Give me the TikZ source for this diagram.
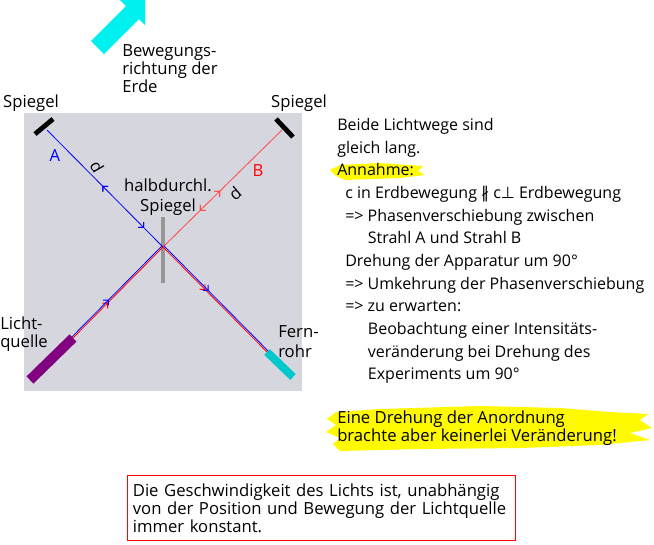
\documentclass[tikz,border=0pt]{standalone}
\usepackage{fontspec}
\setmainfont{Open Sans}
\newfontfamily\symfont{DejaVu Sans}
\usetikzlibrary{
  arrows.meta,
  decorations.markings,
  positioning,
}
\definecolor{erdcyan}{RGB}{0, 240, 240}
\definecolor{boxgray}{RGB}{214, 214, 222}
\definecolor{halbgray}{RGB}{150, 150, 150}
\definecolor{lichtpurple}{RGB}{128, 0, 128}
\definecolor{rohrcyan}{RGB}{0, 200, 205}
\definecolor{strahlred}{RGB}{255, 70, 70}
\definecolor{marker}{RGB}{255, 250, 0}
\tikzstyle{beam} = [line width=0.6pt]
\tikzstyle{spiegel} = [line width=3.6pt, black]
\tikzstyle{txt} = [inner sep=0pt, font=\fontsize{12.5}{13.5}\selectfont]
\tikzset{
  fwd/.style={postaction=decorate, decoration={markings,
    mark=at position #1 with {\arrow{Straight Barb[length=2.8pt,width=5.6pt,line width=0.7pt]}}}},
  bwd/.style={postaction=decorate, decoration={markings,
    mark=at position #1 with {\arrowreversed{Straight Barb[length=2.8pt,width=5.6pt,line width=0.7pt]}}}},
}

\begin{document}
\begin{tikzpicture}[x=0.75pt,y=-0.75pt]
  \useasboundingbox (0,0) rectangle (654,544);
  % Bewegungsrichtung
  \fill[erdcyan] (91,41) -- (126,6) -- (120,0) -- (145,0) -- (145,25) -- (139,19) -- (104,54) -- cycle;
  \node[txt, align=left, anchor=north west] (bew) at (122,44) {Bewegungs-\\richtung der\\Erde};

  % Apparatur
  \fill[boxgray] (24,113) rectangle (302,391);
  \coordinate (C) at (163,247);
  \coordinate (MA) at (47,130);
  \coordinate (MB) at (282,130);
  \coordinate (LQ) at (73,338);
  \coordinate (FR) at (267,352);

  \draw[spiegel] (35,134) -- (53,119);
  \draw[spiegel] (276,119) -- (293,137);
  \draw[line width=3pt, halbgray] (163,217) -- (163,283);
  \draw[line width=7.5pt, lichtpurple] (LQ) -- (30,380);
  \draw[line width=6pt, rohrcyan] (FR) -- (293,377);

  % Strahlen
  \draw[beam, blue, fwd=0.84, bwd=0.48] (MA) -- (C);
  \draw[beam, strahlred, fwd=0.69, bwd=0.52] (MB) -- (C);
  \draw[beam, red, fwd=0.39] (LQ) -- (C);
  \draw[beam, blue, fwd=0.41] ([xshift=-0.8pt,yshift=0.8pt]LQ) -- ([xshift=-0.8pt,yshift=0.8pt]C);
  \draw[beam, red, fwd=0.41] (C) -- (FR);
  \draw[beam, blue, fwd=0.43] ([xshift=0.8pt,yshift=0.8pt]C) -- ([xshift=0.8pt,yshift=0.8pt]FR);

  \node[txt, blue] (labA) at (55,156) {A};
  \node[txt, red] (labB) at (258,171) {B};
  \node[txt, rotate=-60] (dA) at (97,167) {d};
  \node[txt, rotate=40] (dB) at (235,193) {d};
  \node[txt, align=center, font=\fontsize{12.5}{15.5}\selectfont] (hds) at (168,197) {halbdurchl.\\Spiegel};
  \node[txt] (spA) at (31,103) {Spiegel};
  \node[txt] (spB) at (299,103) {Spiegel};
  \node[txt, align=left, anchor=north west] (lq) at (0,317) {Licht-\\quelle};
  \node[txt, align=left, anchor=north west, font=\fontsize{12.5}{15}\selectfont] (fr) at (278,325) {Fern-\\rohr};

  % Erklaerung
  \fill[marker] (330,170) -- (340,165) -- (380,163) -- (423,166) -- (418,171) -- (425,175) -- (400,178) -- (345,180) -- (336,176) -- cycle;
  \node[txt, align=left, anchor=north west, font=\fontsize{12}{17}\selectfont] (erkl) at (337,118) {%
    Beide Lichtwege sind\\
    gleich lang.\\
    Annahme:\\
    \hspace*{6pt}c in Erdbewegung {\symfont ∦} c{\symfont ⊥} Erdbewegung\\
    \hspace*{6pt}=> Phasenverschiebung zwischen\\
    \hspace*{23pt}Strahl A und Strahl B\\
    \hspace*{6pt}Drehung der Apparatur um 90°\\
    \hspace*{6pt}=> Umkehrung der Phasenverschiebung\\
    \hspace*{6pt}=> zu erwarten:\\
    \hspace*{23pt}Beobachtung einer Intensitäts-\\
    \hspace*{23pt}veränderung bei Drehung des\\
    \hspace*{23pt}Experiments um 90°};

  \fill[marker] (327,419) -- (336,412) -- (380,409) -- (480,406) -- (560,408) -- (610,412) -- (648,414) -- (640,420) -- (652,428) -- (630,433) -- (650,440) -- (600,445) -- (520,448) -- (420,449) -- (340,451) -- (333,444) -- (340,438) -- (326,432) -- (336,425) -- cycle;
  \node[txt, align=left, anchor=north west] (erg) at (337,411) {Eine Drehung der Anordnung\\brachte aber keinerlei Veränderung!};

  % Fazit
  \node[txt, draw=red, line width=0.8pt, anchor=north west, align=left, inner xsep=4pt, inner ysep=3pt,
        text width=283pt, minimum height=48.75pt] (fazit) at (127,475)
    {Die Geschwindigkeit des Lichts ist, unabhängig\\von der Position und Bewegung der Lichtquelle\\immer konstant.};
\end{tikzpicture}
\end{document}
